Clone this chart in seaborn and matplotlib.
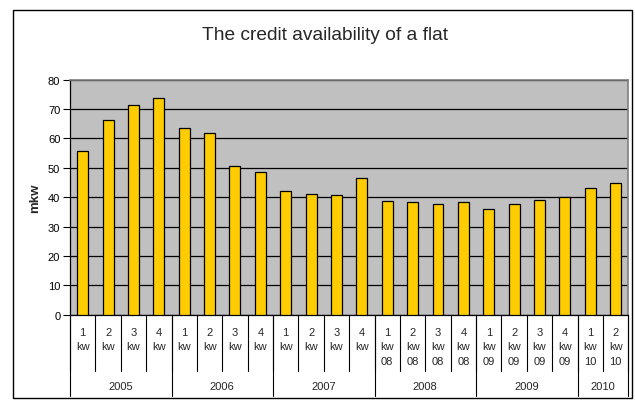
import matplotlib
matplotlib.use("Agg")
import matplotlib.pyplot as plt
import matplotlib.transforms as mtransforms
from matplotlib.patches import Rectangle
from matplotlib.lines import Line2D
import seaborn as sns
import pandas as pd

# ---- data ----
years = ["2005", "2006", "2007", "2008", "2009", "2010"]
quarters_per_year = [4, 4, 4, 4, 4, 2]
quarter_labels = ["1", "2", "3", "4", "1", "2", "3", "4", "1", "2", "3", "4",
                  "1", "2", "3", "4", "1", "2", "3", "4", "1", "2"]
year_suffix = ["", "", "", "", "", "", "", "", "", "", "", "",
               "08", "08", "08", "08", "09", "09", "09", "09", "10", "10"]
values = [55.8, 66.4, 71.3, 73.7, 63.6, 61.7, 50.6, 48.5,
          42.2, 41.2, 40.9, 46.4, 38.6, 38.3, 37.6, 38.3,
          35.9, 37.6, 38.9, 40.1, 43.2, 44.9]
title = "The credit availability of a flat"
ylabel = "mkw"

sns.set_style("white")
plt.rcParams["font.family"] = ["Liberation Sans", "DejaVu Sans"]

W, H = 635, 410
fig = plt.figure(figsize=(W / 100, H / 100), dpi=100)
fig.patch.set_facecolor("white")

# outer chart border
fig.patches.append(Rectangle((13 / W, 1 - 399 / H), (632 - 13) / W, (399 - 11) / H,
                             transform=fig.transFigure, fill=False,
                             edgecolor="black", linewidth=1.0))

ax_left, ax_top, ax_right, ax_bottom = 70, 80.7, 628.3, 315.7
ax_h = ax_bottom - ax_top
ax_w = ax_right - ax_left
ax = fig.add_axes([ax_left / W, 1 - ax_bottom / H, ax_w / W, ax_h / H])
ax.set_facecolor("#C0C0C0")

cats = [f"c{i}" for i in range(len(values))]
df = pd.DataFrame({"cat": cats, "val": values})
sns.barplot(data=df, x="cat", y="val", order=cats, color="#FFCC00", saturation=1,
            edgecolor="black", linewidth=0.9, width=0.43, ax=ax, zorder=3)

ax.set_ylim(0, 80)
ax.set_xlim(-0.5, len(values) - 0.5)
ax.set_yticks(range(0, 81, 10))
ax.yaxis.grid(True, color="black", linewidth=0.9, zorder=0)
ax.set_axisbelow(True)
ax.set_xticks([])
ax.set_xlabel("")
ax.set_ylabel(ylabel, fontsize=9.5, fontweight="bold")
ax.yaxis.set_label_coords((41.5 - ax_left) / ax_w, 0.5)
ax.tick_params(axis="y", direction="out", length=5, width=0.8, labelsize=8,
               colors="black", left=True, pad=2)

for s in ["left", "bottom"]:
    ax.spines[s].set_color("black")
    ax.spines[s].set_linewidth(0.9)
for s in ["top", "right"]:
    ax.spines[s].set_color("#808080")
    ax.spines[s].set_linewidth(1.2)

trans = mtransforms.blended_transform_factory(ax.transData, ax.transAxes)

def frac(px):
    return -px / ax_h

# quarter separators
n = len(values)
for i in range(n + 1):
    ax.add_line(Line2D([i - 0.5, i - 0.5], [0, frac(56)], transform=trans,
                       color="black", linewidth=0.8, clip_on=False))

# year separators
pos = 0
bounds = [0]
for q in quarters_per_year:
    pos += q
    bounds.append(pos)
for b in bounds:
    ax.add_line(Line2D([b - 0.5, b - 0.5], [0, frac(81)], transform=trans,
                       color="black", linewidth=0.8, clip_on=False))

fs = 8
# quarter labels
for i in range(n):
    ax.text(i, frac(17), quarter_labels[i], transform=trans, ha="center", va="center",
            fontsize=fs)
    ax.text(i, frac(31), "kw", transform=trans, ha="center", va="center", fontsize=fs)
    if year_suffix[i]:
        ax.text(i, frac(46), year_suffix[i], transform=trans, ha="center", va="center",
                fontsize=fs)

# year labels
for k, y in enumerate(years):
    c = (bounds[k] + bounds[k + 1] - 1) / 2
    ax.text(c, frac(71.3), y, transform=trans, ha="center", va="center", fontsize=fs)

fig.text(325.5 / W, 1 - 35 / H, title, ha="center", va="center", fontsize=13.8)

fig.savefig("out.png", dpi=100)
